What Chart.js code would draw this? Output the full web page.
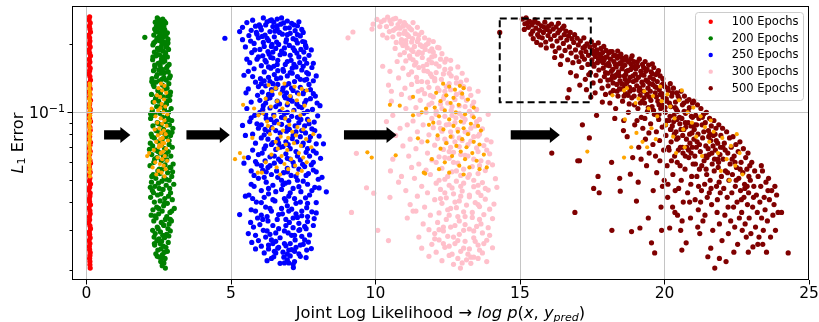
<!DOCTYPE html>
<html>
<head>
<meta charset="utf-8">
<script src="https://cdn.jsdelivr.net/npm/chart.js@4/dist/chart.umd.min.js"></script>
<style>
  html, body { margin: 0; padding: 0; background: #fff; }
  canvas { display: block; }
</style>
</head>
<body>
<canvas id="c" width="819" height="322"></canvas>
<script>
  // axis ticks
  const xTicks = [0, 5, 10, 15, 20, 25];
  const yTicks = [0.02, 0.03, 0.04, 0.05, 0.06, 0.07, 0.08, 0.09, 0.1, 0.2];

  const epochLabels = ['100 Epochs', '200 Epochs', '250 Epochs', '300 Epochs', '500 Epochs'];
  const epochColors = ['#ff0000', '#008000', '#0000ff', '#ffc0cb', '#800000'];
  const selColor = '#ffa500';

  // arrows between the clusters and the highlighted box (data units)
  const arrowFrom = [0.61, 3.46, 8.91, 14.68];
  const arrowTo = [1.52, 4.96, 10.73, 16.38];
  const arrowLevel = 0.0794;
  const boxX = [14.30, 17.45];
  const boxY = [0.1108, 0.2606];

  // [joint log likelihood, L1 error]
  const red100 = [
    [0.11,0.265],[0.09,0.257],[0.13,0.249],[0.10,0.241],[0.12,0.234],[0.14,0.227],[0.08,0.220],[0.11,0.214],[0.12,0.207],[0.10,0.201],
    [0.13,0.195],[0.09,0.189],[0.11,0.183],[0.14,0.178],[0.10,0.172],[0.12,0.167],[0.08,0.162],[0.13,0.157],[0.11,0.153],[0.09,0.148],
    [0.12,0.144],[0.14,0.139],[0.10,0.135],[0.11,0.131],[0.13,0.127],[0.08,0.123],[0.12,0.120],[0.10,0.116],[0.14,0.113],[0.11,0.109],
    [0.09,0.106],[0.13,0.103],[0.12,0.0998],[0.10,0.0968],[0.11,0.0939],[0.14,0.0911],[0.08,0.0884],[0.12,0.0857],[0.13,0.0832],[0.10,0.0807],
    [0.11,0.0782],[0.09,0.0759],[0.14,0.0736],[0.12,0.0714],[0.10,0.0693],[0.13,0.0672],[0.11,0.0652],[0.08,0.0632],[0.12,0.0613],[0.14,0.0595],
    [0.10,0.0577],[0.11,0.0560],[0.13,0.0543],[0.09,0.0527],[0.12,0.0511],[0.10,0.0496],[0.14,0.0481],[0.11,0.0466],[0.08,0.0452],[0.13,0.0439],
    [0.12,0.0426],[0.10,0.0413],[0.11,0.0401],[0.14,0.0389],[0.09,0.0377],[0.12,0.0366],[0.13,0.0355],[0.10,0.0344],[0.11,0.0334],[0.08,0.0324],
    [0.12,0.0314],[0.14,0.0305],[0.10,0.0295],[0.11,0.0287],[0.13,0.0278],[0.09,0.0270],[0.12,0.0262],[0.10,0.0254],[0.11,0.0246],[0.13,0.0239],
    [0.12,0.0232],[0.11,0.0225],[0.12,0.0218],[0.12,0.0211],[0.13,0.0204]
  ];
  const sel100 = [
    [0.11,0.134],[0.12,0.131],[0.10,0.127],[0.12,0.124],[0.11,0.121],[0.13,0.118],[0.10,0.115],[0.12,0.112],[0.11,0.109],[0.10,0.106],
    [0.12,0.103],[0.11,0.100],[0.13,0.097],[0.10,0.095],[0.12,0.092],[0.11,0.090],[0.10,0.087],[0.12,0.085],[0.11,0.082],[0.13,0.080],
    [0.10,0.078],[0.12,0.076],[0.11,0.074],[0.10,0.072],[0.12,0.070],[0.11,0.068],[0.13,0.066],[0.10,0.064],[0.12,0.062],[0.11,0.060],
    [0.10,0.058],[0.12,0.056],[0.11,0.054],[0.12,0.052]
  ];

  const green200 = [
    [2.45,0.262],[2.64,0.259],[2.55,0.255],[2.70,0.253],[2.38,0.251],[2.50,0.248],[2.62,0.246],[2.74,0.249],
    [2.42,0.241],[2.58,0.243],[2.68,0.239],[2.36,0.234],[2.53,0.236],[2.71,0.232],[2.47,0.227],[2.62,0.229],[2.80,0.225],
    [2.33,0.220],[2.56,0.222],[2.75,0.218],[2.44,0.213],[2.66,0.215],[2.82,0.211],[2.02,0.215],
    [2.38,0.206],[2.52,0.208],[2.70,0.204],[2.30,0.199],[2.61,0.201],[2.78,0.197],[2.46,0.192],[2.57,0.194],[2.84,0.190],
    [2.35,0.185],[2.66,0.187],[2.74,0.183],[2.41,0.178],[2.53,0.180],[2.80,0.176],[2.29,0.171],[2.60,0.173],[2.71,0.169],
    [2.48,0.165],[2.65,0.167],[2.86,0.163],[2.37,0.159],[2.55,0.161],[2.77,0.157],[2.32,0.153],[2.62,0.155],[2.83,0.151],
    [2.45,0.147],[2.58,0.149],[2.90,0.145],[2.27,0.141],[2.68,0.143],[2.76,0.139],[2.40,0.136],[2.52,0.138],[2.85,0.134],
    [2.34,0.130],[2.63,0.132],[2.79,0.128],[2.47,0.125],[2.71,0.127],[2.91,0.123],[2.25,0.120],[2.56,0.122],[2.82,0.118],
    [2.39,0.115],[2.66,0.117],[2.88,0.113],[2.31,0.111],[2.50,0.112],[2.77,0.109],[2.43,0.106],[2.61,0.108],[2.93,0.104],
    [2.28,0.102],[2.70,0.103],[2.84,0.100],[2.36,0.098],[2.54,0.099],[2.80,0.096],[2.22,0.094],[2.64,0.095],[2.95,0.092],
    [2.45,0.090],[2.73,0.091],[2.87,0.088],[2.30,0.087],[2.58,0.088],[2.99,0.085],[2.41,0.083],[2.67,0.084],[2.82,0.082],
    [2.24,0.080],[2.52,0.081],[2.91,0.079],[2.35,0.077],[2.75,0.078],[2.62,0.076],[2.48,0.074],[2.86,0.075],[2.21,0.073],
    [2.29,0.071],[2.60,0.072],[2.97,0.070],[2.39,0.068],[2.70,0.069],[2.83,0.067],[2.26,0.065],[2.55,0.066],[2.92,0.064],
    [2.44,0.063],[2.66,0.0635],[2.78,0.0615],[2.33,0.060],[2.59,0.061],[3.00,0.059],[2.20,0.058],[2.72,0.0585],[2.88,0.057],
    [2.47,0.055],[2.63,0.056],[2.81,0.054],[2.31,0.053],[2.54,0.0535],[2.95,0.052],[2.40,0.051],[2.69,0.0515],[2.86,0.050],
    [2.25,0.049],[2.61,0.0495],[3.02,0.048],[2.37,0.047],[2.76,0.0475],[2.52,0.046],[2.28,0.045],[2.65,0.0455],[2.91,0.044],
    [2.46,0.043],[2.58,0.0435],[2.84,0.0425],[2.22,0.042],[2.71,0.0415],[2.97,0.041],[2.35,0.040],[2.55,0.0405],[2.80,0.0395],
    [2.43,0.038],[2.67,0.0385],[3.04,0.0375],[2.30,0.037],[2.62,0.0365],[2.89,0.036],[2.24,0.035],[2.50,0.0355],[2.78,0.0345],
    [2.41,0.034],[2.73,0.0335],[2.94,0.033],[2.33,0.033],[2.59,0.0325],[2.86,0.032],[2.45,0.031],[2.68,0.0315],[2.82,0.0305],
    [2.29,0.030],[2.56,0.0295],[2.90,0.0298],[2.38,0.029],[2.64,0.0285],[2.77,0.0288],[2.34,0.028],[2.70,0.0278],[2.51,0.0275],
    [2.44,0.027],[2.60,0.0268],[2.83,0.0265],[2.36,0.0258],[2.66,0.0255],[2.75,0.0252],[2.47,0.0245],[2.58,0.0248],[2.80,0.0242],
    [2.40,0.0236],[2.63,0.0234],[2.53,0.0228],[2.72,0.0225],[2.45,0.0230],[2.57,0.0218],[2.68,0.0215],[2.62,0.0209],[2.73,0.0204],
    [2.50,0.258],[2.59,0.250],[2.47,0.243],[2.66,0.236],[2.40,0.229],[2.72,0.222],[2.52,0.217],[2.60,0.209],[2.33,0.203],[2.74,0.195],
    [2.51,0.189],[2.43,0.181],[2.69,0.177],[2.58,0.168],[2.36,0.162],[2.80,0.160],[2.50,0.154],[2.70,0.150],[2.42,0.144],[2.61,0.140],
    [2.31,0.133],[2.74,0.129],[2.55,0.124],[2.43,0.118],[2.78,0.112],[2.57,0.107],[2.34,0.097],[2.85,0.093],[2.50,0.089],[2.68,0.081],
    [2.27,0.078],[2.86,0.072],[2.48,0.067],[2.75,0.065],[2.36,0.062],[2.92,0.057],[2.52,0.056],[2.26,0.052],[2.76,0.0505],[2.49,0.0485],
    [2.88,0.046],[2.32,0.044],[2.70,0.0395],[2.50,0.0375],[2.95,0.0365],[2.37,0.0348],[2.66,0.0318],[2.48,0.0305],[2.85,0.0283],[2.55,0.0262],
    [2.70,0.0240],[2.35,0.0262],[2.62,0.0226],[2.90,0.0335],[2.21,0.0465],[2.98,0.0545],[2.18,0.0685],[2.96,0.0815],[2.22,0.0985],[2.89,0.119],
    [2.26,0.137],[2.87,0.142],[2.30,0.176],[2.82,0.203],[2.58,0.216],[2.65,0.187]
  ];
  const sel200 = [
    [2.58,0.134],[2.70,0.131],[2.49,0.128],[2.62,0.125],[2.76,0.122],[2.44,0.119],[2.55,0.117],[2.68,0.114],[2.35,0.111],[2.60,0.109],
    [2.73,0.106],[2.26,0.104],[2.48,0.102],[2.66,0.100],[2.80,0.098],[2.39,0.096],[2.57,0.094],[2.70,0.092],[2.45,0.090],[2.62,0.089],
    [2.77,0.087],[2.52,0.085],[2.36,0.084],[2.68,0.083],[2.59,0.081],[2.74,0.080],[2.47,0.079],[2.64,0.077],[2.55,0.076],[2.82,0.075],
    [2.41,0.074],[2.69,0.073],[2.60,0.071],[2.50,0.070],[2.76,0.069],[2.33,0.068],[2.65,0.067],[2.57,0.066],[2.71,0.064],[2.46,0.063],
    [2.10,0.064],[2.17,0.066],[2.62,0.062],[2.79,0.061],[2.38,0.060],[2.54,0.059],[2.67,0.058],[2.29,0.057],[2.74,0.056],[2.49,0.055],
    [2.60,0.054],[2.42,0.053],[2.70,0.052],[2.56,0.1045],[2.52,0.0715],[2.63,0.0735]
  ];

  const blue250 = [
    [6.12,0.262],[6.60,0.259],[5.75,0.256],[6.95,0.254],[6.40,0.257],[5.55,0.250],[6.25,0.252],[7.10,0.248],
    [5.98,0.244],[6.72,0.246],[7.30,0.242],[5.40,0.238],[6.45,0.240],[6.88,0.236],[6.05,0.232],[6.60,0.234],[7.22,0.230],[5.70,0.231],
    [5.88,0.226],[6.35,0.228],[7.05,0.224],[6.18,0.220],[6.78,0.222],[7.40,0.218],[5.62,0.219],[4.79,0.213],[5.95,0.214],[6.50,0.216],[7.15,0.212],
    [6.30,0.208],[6.92,0.210],[7.48,0.206],[5.80,0.202],[6.12,0.204],[6.65,0.200],[7.30,0.203],[6.40,0.196],[7.02,0.198],[7.60,0.194],[5.50,0.195],
    [6.00,0.190],[6.55,0.192],[7.20,0.188],[5.72,0.184],[6.28,0.186],[6.85,0.182],[7.52,0.185],[6.10,0.178],[6.70,0.180],[7.35,0.176],[7.70,0.179],
    [5.90,0.172],[6.45,0.174],[7.08,0.170],[6.22,0.167],[6.95,0.168],[7.62,0.165],[5.65,0.166],[6.05,0.161],[6.60,0.163],[7.25,0.159],
    [5.80,0.156],[6.38,0.157],[7.45,0.154],[7.80,0.158],[6.15,0.151],[6.82,0.152],[7.12,0.149],[5.45,0.146],[6.50,0.147],[7.30,0.144],[7.68,0.148],
    [6.02,0.141],[6.72,0.142],[7.55,0.139],[5.85,0.136],[6.35,0.137],[7.00,0.134],[7.85,0.138],[6.20,0.131],[6.90,0.132],[7.40,0.129],
    [5.60,0.127],[6.55,0.128],[7.15,0.125],[7.75,0.126],[6.08,0.123],[6.78,0.124],[7.50,0.121],[5.92,0.119],[6.42,0.120],[7.05,0.117],[7.92,0.118],
    [6.25,0.115],[6.88,0.116],[7.60,0.113],[5.70,0.111],[6.60,0.112],[7.28,0.109],[7.98,0.110],[6.12,0.107],[6.95,0.108],[7.45,0.105],
    [5.55,0.104],[6.35,0.1045],[7.18,0.102],[7.82,0.103],[6.00,0.100],[6.70,0.101],[7.52,0.099],[5.82,0.097],[6.48,0.0975],[7.10,0.096],[8.00,0.0965],
    [6.22,0.094],[6.85,0.0945],[7.65,0.093],[5.65,0.091],[6.58,0.0915],[7.35,0.090],[7.88,0.0905],[6.05,0.088],[6.75,0.0885],[7.22,0.087],
    [5.95,0.085],[6.40,0.0855],[7.02,0.084],[7.80,0.0845],[6.30,0.082],[6.92,0.0825],[7.58,0.081],[5.50,0.079],[6.15,0.0795],[7.40,0.078],[8.05,0.0785],
    [6.62,0.076],[7.12,0.0765],[7.70,0.075],[5.85,0.073],[6.45,0.0735],[6.98,0.072],[7.95,0.0725],[6.20,0.071],[6.80,0.0705],[7.48,0.0715],
    [5.75,0.068],[6.55,0.0685],[7.25,0.067],[7.85,0.0675],[6.08,0.066],[6.90,0.0655],[7.60,0.0665],[5.60,0.063],[6.35,0.0635],[7.05,0.062],[8.10,0.0625],
    [6.18,0.061],[6.72,0.0605],[7.40,0.0615],[5.90,0.059],[6.50,0.0595],[7.18,0.058],[7.78,0.0585],[6.28,0.057],[6.95,0.0565],[7.55,0.0575],
    [5.70,0.055],[6.10,0.0555],[6.82,0.054],[7.95,0.0545],[6.40,0.053],[7.08,0.0525],[7.68,0.0535],[5.95,0.051],[6.62,0.0515],[7.30,0.050],[8.02,0.0505],
    [6.22,0.049],[6.88,0.0485],[7.50,0.0495],[5.80,0.047],[6.45,0.0475],[7.15,0.046],[7.90,0.0465],[6.05,0.045],[6.75,0.0455],[7.42,0.0445],[8.30,0.0444],
    [5.62,0.043],[6.30,0.0435],[7.00,0.0425],[7.72,0.043],[6.15,0.042],[6.85,0.0415],[7.58,0.0418],[5.88,0.040],[6.52,0.0405],[7.25,0.0395],[7.95,0.0398],
    [6.20,0.038],[6.95,0.0385],[7.62,0.0378],[5.70,0.037],[6.40,0.0365],[7.10,0.0372],[7.80,0.0362],[6.05,0.035],[6.78,0.0355],[7.45,0.0348],[5.30,0.0352],
    [5.92,0.034],[6.60,0.0335],[7.30,0.0342],[7.88,0.0338],[6.28,0.033],[7.02,0.0325],[7.65,0.0328],[5.78,0.031],[6.45,0.0315],[7.15,0.0308],[7.55,0.0312],
    [6.12,0.030],[6.85,0.0298],[7.38,0.0302],[5.60,0.029],[6.35,0.0288],[6.98,0.0292],[7.72,0.0286],[6.20,0.028],[6.70,0.0278],[7.45,0.0282],
    [5.95,0.027],[6.55,0.0268],[7.22,0.0272],[7.68,0.0266],[6.30,0.0258],[6.90,0.0256],[7.50,0.026],[5.85,0.0248],[6.62,0.025],[7.10,0.0246],[7.78,0.0249],
    [6.15,0.0238],[6.80,0.024],[7.35,0.0236],[6.48,0.0229],[7.05,0.0231],[7.60,0.0227],[6.25,0.022],[6.95,0.0222],[7.20,0.0218],
    [7.15,0.0212],[6.83,0.0228],[6.70,0.0214],[7.16,0.0205],
    [6.35,0.255],[6.82,0.249],[5.85,0.241],[7.02,0.237],[6.52,0.229],[6.95,0.221],[6.08,0.217],[7.25,0.209],[6.58,0.205],[5.68,0.207],
    [6.85,0.193],[7.42,0.190],[6.32,0.181],[7.05,0.179],[5.95,0.176],[6.62,0.170],[7.38,0.166],[6.48,0.160],[7.12,0.157],[5.60,0.152],
    [6.95,0.145],[6.30,0.143],[7.40,0.140],[5.95,0.130],[6.62,0.133],[7.70,0.133],[6.40,0.126],[7.30,0.122],[6.00,0.113],[7.12,0.112],
    [7.75,0.115],[6.55,0.106],[7.65,0.101],[6.20,0.098],[7.30,0.095],[5.90,0.089],[7.00,0.092],[7.55,0.087],[6.18,0.084],[6.70,0.081],
    [7.90,0.083],[6.05,0.077],[7.28,0.074],[6.70,0.070],[7.65,0.069],[5.95,0.065],[7.30,0.064],[6.65,0.062],[7.85,0.060],[6.05,0.058],
    [7.35,0.056],[6.58,0.055],[7.25,0.052],[5.80,0.0525],[6.75,0.050],[7.65,0.048],[6.30,0.046],[7.05,0.044],[7.80,0.045],[6.45,0.041],
    [7.40,0.040],[5.75,0.0415],[6.75,0.0375],[7.45,0.0365],[6.25,0.0345],[7.15,0.034],[6.90,0.0315],[6.00,0.0318],[7.60,0.0305],[6.55,0.0292],
    [7.20,0.0285],[6.45,0.0262],[7.05,0.0262],[6.50,0.0242],[7.20,0.0242],[6.95,0.0235],[6.65,0.0252],[7.40,0.0258],[5.72,0.0265],[7.85,0.0315],
    [5.50,0.0425],[8.15,0.0515],[5.45,0.0595],[8.20,0.0725],[5.40,0.0875],[8.08,0.107],[5.52,0.122],[7.95,0.145],[5.55,0.172],[7.78,0.189],
    [5.40,0.210],[7.50,0.226],[5.30,0.228],[6.75,0.262],[7.35,0.252],[6.20,0.244],[7.55,0.205],[6.45,0.185],[6.80,0.155],[7.50,0.160],
    [6.15,0.138],[7.10,0.128],[6.85,0.118],[6.35,0.116],[6.95,0.100],[6.50,0.090],[7.15,0.079],[6.40,0.072],
    [6.48,0.251],[7.18,0.244],[6.02,0.239],[6.68,0.226],[7.30,0.221],[6.25,0.213],[6.90,0.205],[7.58,0.198],[6.15,0.196],[6.75,0.187],
    [7.28,0.183],[6.38,0.175],[7.55,0.172],[6.88,0.163],[6.30,0.159],[7.05,0.150],[7.62,0.150],[6.58,0.141],[7.20,0.137],[6.05,0.134],
    [6.80,0.128],[7.52,0.124],[6.30,0.120],[7.00,0.114],[6.68,0.109],[7.35,0.106],[6.10,0.103],[6.85,0.099],[7.42,0.093],[6.38,0.093],
    [7.70,0.089],[6.95,0.086],[6.55,0.083],[7.25,0.082],[7.75,0.078],[6.28,0.076],[6.90,0.074],[7.50,0.073],[6.15,0.069],[7.05,0.069],
    [7.72,0.064],[6.50,0.064],[7.15,0.060],[6.35,0.058],[6.95,0.0545],[7.60,0.0525],[6.15,0.0515],[6.80,0.0478],[7.35,0.0468],[6.55,0.0445],
    [7.20,0.0415],[6.05,0.0398],[6.90,0.0405],[7.65,0.0395],[6.35,0.0375],[7.25,0.0355],[6.65,0.0352],[7.65,0.0345],[6.10,0.0335],[6.90,0.0335],
    [6.65,0.0305],[7.35,0.0322],[6.25,0.0298],[7.10,0.0285],[7.55,0.0272],[6.40,0.0272],[6.85,0.0262],[7.25,0.0252],[6.05,0.0255],[6.55,0.0238],
    [7.00,0.0245],[6.85,0.0215],[7.40,0.0230],[6.40,0.0225],[6.60,0.242],[7.45,0.233],[5.90,0.222],[6.42,0.200],[7.15,0.193],[5.82,0.189],
    [6.18,0.170],[7.18,0.163],[7.85,0.165],[6.62,0.153],[5.75,0.144],[6.45,0.134],[7.62,0.140],[6.92,0.122],[7.85,0.121],[6.20,0.110],
    [7.55,0.110],[6.75,0.095],[5.70,0.0945],[7.45,0.083],[5.75,0.080],[6.65,0.073],[7.95,0.066],[5.85,0.0605],[6.95,0.0625],[7.48,0.0588],
    [6.22,0.0545],[7.85,0.0555],[5.70,0.0480],[7.00,0.0490],[8.05,0.0462],[5.85,0.0365],[7.00,0.0365],[7.95,0.0358],[5.68,0.0325],[7.35,0.0300],
    [5.85,0.0285],[7.62,0.0245],[6.30,0.0248],[7.00,0.0215]
  ];
  const sel250 = [
    [5.42,0.108],[5.14,0.062],[5.31,0.066],[5.45,0.063],[5.74,0.077],[5.93,0.054],[6.07,0.054],[5.80,0.104],[5.95,0.097],
    [6.30,0.132],[6.55,0.128],[6.85,0.134],[7.20,0.130],[7.45,0.127],[6.42,0.124],[6.70,0.121],[7.05,0.118],[7.35,0.120],[7.62,0.125],
    [6.20,0.115],[6.60,0.112],[6.95,0.110],[7.28,0.113],[6.38,0.106],[6.78,0.104],[7.15,0.101],[7.55,0.107],[6.10,0.099],
    [6.50,0.096],[6.88,0.094],[7.40,0.097],[7.70,0.092],[6.25,0.091],[6.65,0.089],[7.02,0.088],[7.30,0.086],[6.45,0.085],
    [6.80,0.083],[7.12,0.082],[7.50,0.084],[6.35,0.080],[6.72,0.078],[6.98,0.077],[7.25,0.079],[7.60,0.076],[6.55,0.074],
    [6.90,0.072],[7.18,0.073],[7.42,0.071],[6.62,0.069],[6.95,0.068],[7.35,0.066],[7.78,0.070],[6.40,0.065],[6.75,0.064],
    [7.08,0.062],[7.50,0.063],[6.20,0.060],[6.85,0.059],[7.22,0.058],[7.62,0.060],[6.58,0.057],[6.98,0.056],[7.45,0.055],
    [6.70,0.053],[7.30,0.0535],[6.28,0.087],[7.85,0.080]
  ];

  const pink300 = [
    [10.42,0.264],[10.05,0.258],[10.62,0.259],[10.30,0.256],[10.20,0.252],[10.85,0.253],[11.30,0.250],[9.92,0.246],[10.55,0.247],[11.05,0.244],
    [10.38,0.240],[10.95,0.241],[11.45,0.238],[11.15,0.239],[9.88,0.234],[10.70,0.235],[11.25,0.232],[9.22,0.227],[10.48,0.228],[11.02,0.229],[11.60,0.226],
    [10.82,0.222],[11.38,0.223],[10.25,0.220],[9.05,0.214],[10.60,0.216],[11.15,0.217],[11.70,0.214],[10.90,0.210],[11.48,0.211],[11.05,0.208],
    [10.72,0.204],[11.25,0.205],[11.82,0.202],[12.00,0.206],[10.95,0.198],[11.55,0.199],[11.35,0.196],[10.68,0.192],[11.10,0.193],[11.72,0.190],[12.15,0.194],
    [11.30,0.186],[11.88,0.187],[11.00,0.184],[10.85,0.180],[11.45,0.181],[12.05,0.178],[12.30,0.182],[11.20,0.174],[11.62,0.175],[12.45,0.172],
    [10.75,0.168],[11.05,0.169],[11.95,0.166],[12.60,0.170],[11.35,0.162],[11.78,0.163],[12.20,0.160],[10.95,0.157],[11.50,0.158],[12.40,0.155],[12.85,0.159],
    [10.50,0.152],[11.68,0.153],[12.10,0.150],[11.15,0.147],[11.90,0.148],[12.62,0.145],[13.00,0.149],[10.80,0.142],[11.42,0.143],[12.28,0.140],
    [11.60,0.137],[12.05,0.138],[12.80,0.135],[13.15,0.139],[10.45,0.132],[11.25,0.133],[12.45,0.130],[11.02,0.128],[11.85,0.129],[12.60,0.126],[13.25,0.127],
    [11.48,0.124],[12.20,0.125],[12.95,0.122],[10.90,0.120],[11.70,0.121],[12.38,0.118],[13.30,0.119],[11.20,0.116],[12.00,0.117],[12.75,0.114],
    [10.55,0.112],[11.55,0.113],[12.50,0.110],[13.40,0.111],[11.85,0.108],[12.25,0.109],[13.10,0.106],[11.05,0.104],[11.40,0.105],[12.62,0.102],[13.50,0.103],
    [11.75,0.100],[12.10,0.101],[12.90,0.099],[10.60,0.097],[11.50,0.098],[12.40,0.096],[13.35,0.0965],[11.95,0.094],[12.78,0.0945],[13.60,0.093],
    [10.38,0.091],[11.30,0.0915],[12.20,0.090],[13.05,0.0905],[11.65,0.088],[12.55,0.0885],[13.45,0.087],[10.85,0.085],[12.00,0.0855],[12.85,0.084],[13.70,0.0845],
    [11.45,0.082],[12.30,0.0825],[13.20,0.081],[10.70,0.079],[11.85,0.0795],[12.65,0.078],[13.55,0.0785],[11.20,0.076],[12.15,0.0765],[13.00,0.075],[13.85,0.0755],
    [11.60,0.074],[12.45,0.0735],[13.30,0.0745],[10.95,0.071],[12.05,0.0715],[12.90,0.0705],[13.75,0.0712],[11.40,0.069],[12.35,0.0685],[13.50,0.0695],
    [9.34,0.0658],[11.80,0.066],[12.70,0.0665],[13.95,0.0655],[11.15,0.064],[12.20,0.0635],[13.10,0.0645],[10.60,0.062],[11.95,0.0615],[12.55,0.0625],[13.65,0.061],
    [11.50,0.059],[12.85,0.0595],[14.05,0.0585],[11.25,0.057],[12.30,0.0565],[13.35,0.0575],[10.52,0.055],[11.75,0.0555],[12.65,0.0545],[13.80,0.0552],
    [11.90,0.053],[12.95,0.0525],[13.55,0.0535],[11.35,0.051],[12.40,0.0505],[13.20,0.0515],[14.15,0.0508],[10.80,0.049],[12.10,0.0485],[12.80,0.0495],[13.70,0.0488],
    [9.69,0.0463],[11.60,0.047],[12.55,0.0475],[13.40,0.0468],[11.05,0.045],[12.25,0.0455],[13.00,0.0448],[13.90,0.0452],[9.94,0.0438],[11.80,0.044],[12.70,0.0435],[13.55,0.0442],
    [10.50,0.042],[11.45,0.0425],[12.45,0.0418],[13.25,0.0422],[12.05,0.041],[12.90,0.0405],[13.80,0.0412],[11.20,0.039],[12.30,0.0395],[13.15,0.0388],[14.10,0.0392],
    [11.70,0.038],[12.60,0.0375],[13.60,0.0382],[9.17,0.036],[11.40,0.0365],[12.20,0.0358],[13.05,0.0362],[11.90,0.035],[12.85,0.0345],[13.75,0.0352],
    [11.10,0.034],[12.45,0.0335],[13.35,0.0342],[14.05,0.0338],[11.65,0.032],[12.15,0.0325],[13.10,0.0318],[12.60,0.031],[13.50,0.0312],[13.90,0.0308],
    [10.08,0.030],[11.85,0.0302],[12.35,0.0298],[13.25,0.0304],[12.05,0.029],[12.90,0.0288],[13.70,0.0292],[11.50,0.028],[12.50,0.0282],[13.40,0.0278],
    [10.45,0.027],[12.20,0.0272],[13.10,0.0268],[13.85,0.0271],[11.95,0.026],[12.75,0.0262],[13.55,0.0258],[11.60,0.025],[12.40,0.0252],[13.25,0.0248],[14.05,0.0251],
    [12.10,0.024],[12.95,0.0242],[13.70,0.0238],[11.85,0.023],[12.55,0.0232],[13.40,0.0228],[12.30,0.022],[13.15,0.0222],[13.85,0.0218],
    [12.70,0.0212],[13.30,0.0214],[12.94,0.0204],
    [10.50,0.255],[10.78,0.245],[10.15,0.240],[11.20,0.235],[10.62,0.231],[10.98,0.224],[11.50,0.220],[10.40,0.214],[11.28,0.212],[11.85,0.209],
    [11.05,0.201],[11.62,0.196],[11.95,0.191],[11.25,0.189],[12.00,0.185],[11.62,0.183],[11.18,0.178],[11.85,0.171],[12.40,0.167],[11.40,0.166],
    [12.10,0.164],[11.65,0.160],[12.60,0.156],[11.25,0.151],[12.35,0.148],[11.95,0.144],[12.80,0.142],[11.80,0.136],[12.55,0.134],[12.15,0.128],
    [13.05,0.130],[11.60,0.126],[12.80,0.120],[12.35,0.115],[13.15,0.113],[11.95,0.110],[12.90,0.107],[12.30,0.104],[13.25,0.101],[12.65,0.097],
    [13.10,0.093],[12.45,0.088],[13.30,0.085],[12.60,0.082],[13.60,0.080],[12.90,0.077],[12.40,0.076],[13.20,0.072],[12.60,0.070],[13.85,0.068],
    [12.95,0.065],[12.40,0.063],[13.40,0.062],[12.70,0.060],[13.90,0.060],[13.05,0.056],[12.50,0.052],[13.40,0.050],[12.95,0.047],[13.80,0.046],
    [12.40,0.044],[13.25,0.043],[12.75,0.040],[13.55,0.039],[12.50,0.037],[13.35,0.036],[12.90,0.033],[13.65,0.032],[12.35,0.031],[13.05,0.030],
    [13.95,0.0285],[12.70,0.028],[13.45,0.0268],[12.55,0.0255],[13.20,0.0235],[12.85,0.0225],[13.55,0.0225],[12.05,0.0275],[11.30,0.0365],[10.90,0.052],
    [11.10,0.088],[10.55,0.124],[10.25,0.160],[12.20,0.193],[11.00,0.250],[10.70,0.261],[14.20,0.0465],[14.00,0.074],[13.90,0.098],[13.55,0.124],
    [10.85,0.236],[11.10,0.221],[11.45,0.206],[10.90,0.203],[11.75,0.199],[11.50,0.185],[11.95,0.176],[11.30,0.171],[12.25,0.172],[11.80,0.152],
    [12.55,0.149],[12.05,0.141],[12.95,0.136],[11.45,0.137],[12.40,0.124],[13.00,0.117],[11.90,0.119],[12.65,0.106],[13.35,0.107],[12.10,0.098],
    [13.00,0.096],[12.75,0.090],[13.50,0.091],[12.25,0.085],[13.10,0.082],[13.40,0.078],[12.75,0.074],[13.55,0.067],[12.55,0.067],[13.20,0.064],
    [12.10,0.060],[13.60,0.058],[12.80,0.055],[13.25,0.053],[12.20,0.050],[13.05,0.0485],[13.55,0.0475],[12.65,0.0462],[12.95,0.0425],[13.65,0.0428],
    [12.25,0.0415],[13.45,0.0398],[12.80,0.0378],[13.95,0.0372],[12.55,0.0350],[13.10,0.0345],[13.60,0.0335],[12.75,0.0315],[13.40,0.0298],[12.20,0.0302],
    [12.85,0.0270],[13.75,0.0262],[12.35,0.0262],[13.05,0.0250],[13.60,0.0245],[12.65,0.0235],[13.30,0.0228],[13.00,0.0215]
  ];
  const sel300 = [
    [12.34,0.134],[12.55,0.130],[12.92,0.131],[13.05,0.128],[12.75,0.126],[10.50,0.108],[10.84,0.107],[11.30,0.117],[9.72,0.0665],[9.87,0.063],
    [10.70,0.0645],[11.47,0.0767],[11.80,0.0743],[11.67,0.054],[11.72,0.0535],[11.30,0.097],[11.75,0.104],[11.60,0.100],
    [12.10,0.122],[12.45,0.119],[12.70,0.116],[13.00,0.121],[12.25,0.112],[12.60,0.110],[12.88,0.108],[13.20,0.114],[12.05,0.105],
    [12.40,0.102],[12.78,0.100],[13.10,0.098],[13.40,0.095],[12.20,0.096],[12.55,0.093],[12.95,0.091],[13.30,0.089],[12.00,0.090],
    [12.70,0.087],[13.05,0.085],[13.55,0.087],[12.35,0.084],[12.85,0.082],[13.20,0.080],[13.65,0.083],[12.15,0.079],[12.60,0.078],
    [13.00,0.076],[13.40,0.074],[12.45,0.073],[12.80,0.071],[13.15,0.070],[13.60,0.072],[12.25,0.069],[12.95,0.067],[13.35,0.066],
    [12.65,0.064],[13.10,0.062],[13.50,0.061],[13.75,0.065],[12.40,0.060],[12.90,0.058],[13.25,0.057],[13.60,0.056],[12.55,0.054],
    [13.05,0.053],[13.85,0.057],[12.20,0.056],[11.95,0.062],[11.85,0.088],[13.40,0.105]
  ];

  const maroon500 = [
    [14.30,0.226],
    [15.08,0.259],[15.17,0.247],[15.21,0.262],[15.29,0.238],[15.33,0.253],[15.41,0.244],[15.44,0.229],[15.52,0.257],[15.55,0.236],[15.61,0.221],
    [15.63,0.248],[15.68,0.231],[15.74,0.242],[15.77,0.214],[15.81,0.226],[15.86,0.251],[15.89,0.205],[15.93,0.233],[15.97,0.219],[15.99,0.241],
    [15.46,0.212],[15.72,0.199],[15.38,0.222],[15.15,0.233],[15.58,0.204],[15.91,0.193],[15.26,0.249],[15.84,0.238],[15.66,0.216],[15.49,0.251],
    [16.03,0.228],[16.06,0.211],[16.09,0.246],[16.12,0.197],[16.15,0.234],[16.19,0.219],[16.22,0.186],[16.25,0.239],[16.28,0.207],[16.31,0.225],
    [16.35,0.193],[16.37,0.231],[16.41,0.214],[16.44,0.178],[16.47,0.236],[16.50,0.202],[16.53,0.221],[16.56,0.188],[16.59,0.229],[16.62,0.209],
    [16.65,0.171],[16.68,0.218],[16.71,0.195],[16.74,0.226],[16.77,0.183],[16.80,0.212],[16.83,0.166],[16.86,0.204],[16.89,0.221],[16.92,0.189],
    [16.95,0.176],[16.98,0.213],[16.40,0.163],[16.65,0.116],[16.70,0.126],[16.75,0.150],[16.20,0.175],[16.95,0.145],[16.10,0.066],[16.90,0.036],
    [16.52,0.241],[16.33,0.248],
    [17.02,0.199],[17.04,0.168],[17.07,0.132],[17.09,0.207],[17.11,0.184],[17.14,0.158],[17.16,0.088],[17.18,0.193],[17.21,0.214],[17.23,0.172],
    [17.26,0.140],[17.28,0.186],[17.30,0.126],[17.32,0.201],[17.35,0.163],[17.37,0.179],[17.40,0.077],[17.42,0.195],[17.44,0.150],[17.47,0.206],
    [17.49,0.171],[17.51,0.188],[17.53,0.135],[17.55,0.046],[17.56,0.160],[17.58,0.198],[17.61,0.177],[17.63,0.146],[17.65,0.097],[17.66,0.189],
    [17.68,0.166],[17.70,0.052],[17.71,0.203],[17.73,0.154],[17.74,0.044],[17.76,0.181],[17.78,0.138],[17.80,0.192],[17.82,0.169],[17.84,0.128],
    [17.86,0.184],[17.88,0.157],[17.90,0.196],[17.92,0.144],[17.94,0.175],[17.96,0.120],[17.98,0.188],[17.99,0.162],[17.06,0.061],[17.00,0.061],
    [17.45,0.117],[17.25,0.196],[17.60,0.122],[17.85,0.111],[17.15,0.177],[17.67,0.183],[17.38,0.147],[17.91,0.171],[17.52,0.164],[17.79,0.177],
    [18.01,0.176],[18.03,0.149],[18.05,0.131],[18.07,0.183],[18.09,0.161],[18.11,0.110],[18.13,0.172],[18.15,0.140],[18.17,0.060],[18.18,0.030],
    [18.19,0.186],[18.21,0.155],[18.23,0.125],[18.25,0.168],[18.27,0.143],[18.29,0.179],[18.31,0.104],[18.33,0.159],[18.35,0.133],[18.37,0.174],
    [18.39,0.118],[18.41,0.151],[18.43,0.164],[18.45,0.051],[18.46,0.138],[18.47,0.0447],[18.49,0.181],[18.51,0.127],[18.53,0.156],[18.55,0.112],
    [18.57,0.170],[18.59,0.092],[18.61,0.145],[18.63,0.162],[18.65,0.121],[18.67,0.176],[18.69,0.135],[18.71,0.078],[18.73,0.153],[18.75,0.100],
    [18.77,0.167],[18.79,0.129],[18.81,0.143],[18.82,0.0532],[18.84,0.173],[18.86,0.0296],[18.87,0.116],[18.89,0.158],[18.90,0.063],[18.92,0.137],
    [18.94,0.168],[18.96,0.108],[18.97,0.088],[18.99,0.148],[18.06,0.165],[18.14,0.122],[18.24,0.178],[18.34,0.147],[18.44,0.127],[18.54,0.174],
    [18.64,0.140],[18.74,0.119],[18.83,0.155],[18.93,0.126],[18.28,0.094],[18.58,0.083],[18.38,0.187],[18.68,0.152],[18.88,0.178],[18.48,0.166],
    [18.78,0.109],[18.20,0.145],[18.62,0.131],[18.98,0.160],
    [19.01,0.156],[19.03,0.0404],[19.04,0.131],[19.06,0.167],[19.08,0.104],[19.10,0.143],[19.11,0.070],[19.13,0.172],[19.15,0.0307],[19.16,0.119],
    [19.18,0.152],[19.20,0.095],[19.22,0.136],[19.24,0.163],[19.25,0.085],[19.27,0.124],[19.29,0.146],[19.31,0.110],[19.33,0.168],[19.34,0.076],
    [19.36,0.139],[19.38,0.058],[19.40,0.155],[19.41,0.101],[19.43,0.128],[19.45,0.162],[19.47,0.066],[19.48,0.117],[19.50,0.143],[19.52,0.089],
    [19.54,0.151],[19.55,0.0264],[19.57,0.106],[19.59,0.133],[19.60,0.072],[19.61,0.045],[19.63,0.158],[19.65,0.098],[19.66,0.0238],[19.68,0.122],
    [19.70,0.147],[19.72,0.082],[19.73,0.054],[19.75,0.137],[19.77,0.112],[19.79,0.153],[19.80,0.093],[19.82,0.126],[19.84,0.061],[19.85,0.145],
    [19.87,0.104],[19.88,0.038],[19.90,0.132],[19.92,0.086],[19.94,0.141],[19.95,0.116],[19.97,0.068],[19.99,0.050],[19.05,0.092],[19.14,0.128],
    [19.23,0.112],[19.32,0.094],[19.42,0.137],[19.51,0.124],[19.62,0.140],[19.71,0.129],[19.81,0.108],[19.91,0.121],[19.19,0.062],[19.46,0.081],
    [19.69,0.064],[19.93,0.047],[19.28,0.158],[19.58,0.164],[19.76,0.097],[19.44,0.034],[19.83,0.075],[19.09,0.049],
    [20.01,0.130],[20.03,0.100],[20.05,0.079],[20.07,0.112],[20.09,0.058],[20.11,0.042],[20.13,0.125],[20.15,0.092],[20.16,0.068],[20.18,0.0307],
    [20.20,0.134],[20.22,0.106],[20.23,0.074],[20.25,0.118],[20.27,0.087],[20.29,0.053],[20.31,0.128],[20.33,0.097],[20.35,0.064],[20.36,0.036],
    [20.38,0.111],[20.40,0.082],[20.42,0.122],[20.44,0.060],[20.45,0.101],[20.47,0.077],[20.49,0.046],[20.51,0.115],[20.53,0.089],[20.55,0.070],
    [20.57,0.124],[20.58,0.050],[20.60,0.094],[20.62,0.108],[20.64,0.066],[20.65,0.040],[20.67,0.084],[20.69,0.118],[20.71,0.056],[20.73,0.099],
    [20.75,0.0264],[20.76,0.076],[20.78,0.112],[20.80,0.044],[20.82,0.090],[20.84,0.063],[20.86,0.105],[20.88,0.073],[20.90,0.034],[20.91,0.048],
    [20.93,0.096],[20.95,0.081],[20.97,0.110],[20.99,0.059],[20.04,0.088],[20.14,0.070],[20.24,0.061],[20.34,0.080],[20.43,0.093],[20.54,0.058],
    [20.63,0.079],[20.74,0.086],[20.83,0.068],[20.94,0.052],[20.12,0.048],[20.37,0.045],[20.61,0.033],[20.87,0.040],[20.21,0.084],[20.48,0.068],
    [20.72,0.064],[20.96,0.070],[20.28,0.038],[20.56,0.030],[20.06,0.115],[20.41,0.103],[20.68,0.101],[20.92,0.087],[20.19,0.096],[20.85,0.114],
    [21.01,0.112],[21.03,0.084],[21.05,0.064],[21.06,0.041],[21.08,0.097],[21.10,0.070],[21.12,0.052],[21.14,0.108],[21.16,0.080],[21.17,0.037],
    [21.19,0.094],[21.21,0.056],[21.22,0.029],[21.24,0.067],[21.26,0.104],[21.28,0.045],[21.30,0.088],[21.32,0.077],[21.33,0.033],[21.35,0.098],
    [21.37,0.061],[21.39,0.048],[21.41,0.090],[21.43,0.071],[21.45,0.100],[21.46,0.053],[21.48,0.042],[21.50,0.0229],[21.52,0.083],[21.54,0.065],
    [21.56,0.094],[21.58,0.050],[21.60,0.075],[21.62,0.087],[21.63,0.039],[21.65,0.059],[21.67,0.030],[21.69,0.079],[21.71,0.092],[21.72,0.055],
    [21.74,0.0204],[21.76,0.068],[21.78,0.085],[21.80,0.047],[21.82,0.036],[21.84,0.073],[21.86,0.057],[21.88,0.088],[21.90,0.032],[21.92,0.065],
    [21.93,0.044],[21.95,0.079],[21.97,0.052],[21.99,0.027],[21.07,0.059],[21.18,0.047],[21.29,0.058],[21.40,0.035],[21.51,0.069],[21.61,0.046],
    [21.73,0.062],[21.83,0.041],[21.94,0.070],[21.13,0.074],[21.36,0.082],[21.57,0.080],[21.79,0.075],[21.25,0.040],[21.47,0.063],[21.68,0.071],
    [21.89,0.049],[21.04,0.088],[21.44,0.056],[21.85,0.062],[21.55,0.044],
    [22.01,0.085],[22.03,0.062],[22.05,0.046],[22.07,0.073],[22.09,0.035],[22.11,0.055],[22.13,0.0218],[22.15,0.082],[22.17,0.042],[22.19,0.066],
    [22.21,0.029],[22.23,0.050],[22.25,0.077],[22.27,0.059],[22.29,0.033],[22.31,0.070],[22.33,0.044],[22.35,0.053],[22.37,0.078],[22.39,0.038],
    [22.41,0.064],[22.43,0.031],[22.45,0.047],[22.47,0.072],[22.49,0.057],[22.51,0.040],[22.53,0.026],[22.55,0.067],[22.57,0.051],[22.59,0.034],
    [22.61,0.074],[22.63,0.045],[22.65,0.060],[22.67,0.036],[22.69,0.030],[22.71,0.054],[22.73,0.069],[22.75,0.042],[22.77,0.048],[22.79,0.032],
    [22.81,0.063],[22.83,0.028],[22.85,0.056],[22.87,0.039],[22.89,0.066],[22.91,0.044],[22.93,0.034],[22.95,0.058],[22.97,0.050],[22.99,0.029],
    [22.20,0.038],[22.44,0.060],[22.66,0.041],[22.86,0.047],[22.10,0.068],
    [23.02,0.060],[23.05,0.038],[23.06,0.0253],[23.09,0.047],[23.12,0.055],[23.15,0.031],[23.18,0.043],[23.21,0.036],[23.24,0.052],[23.27,0.028],
    [23.30,0.040],[23.33,0.047],[23.36,0.034],[23.39,0.055],[23.42,0.030],[23.45,0.042],[23.48,0.037],[23.51,0.049],[23.53,0.024],[23.56,0.033],
    [23.60,0.051],[23.63,0.041],[23.67,0.028],[23.71,0.045],[23.75,0.035],[23.79,0.039],[23.84,0.030],[23.88,0.043],[23.93,0.036],[24.05,0.036],
    [24.28,0.0238],[23.23,0.026],[23.58,0.045],[23.35,0.058],[23.82,0.047],
    [17.55,0.182],[17.72,0.172],[17.88,0.166],[17.96,0.150],[18.04,0.139],[18.12,0.186],[18.16,0.152],[18.22,0.135],[18.30,0.163],[18.36,0.124],
    [18.40,0.177],[18.44,0.145],[18.52,0.134],[18.56,0.160],[18.60,0.118],[18.66,0.147],[18.70,0.170],[18.76,0.138],[18.80,0.124],[18.85,0.163],
    [18.91,0.145],[18.95,0.118],[19.02,0.139],[19.07,0.160],[19.12,0.125],[19.17,0.110],[19.21,0.147],[19.26,0.132],[19.30,0.116],[19.35,0.152],
    [19.39,0.120],[19.44,0.105],[19.49,0.134],[19.53,0.113],[19.58,0.148],[19.62,0.102],[19.67,0.130],[19.72,0.117],[19.76,0.150],[19.81,0.098],
    [19.86,0.120],[19.91,0.108],[19.96,0.134],[20.02,0.105],[20.07,0.092],[20.12,0.128],[20.17,0.110],[20.22,0.084],[20.27,0.122],[20.32,0.091],
    [20.37,0.105],[20.42,0.076],[20.47,0.118],[20.52,0.095],[20.57,0.084],[20.62,0.070],[20.67,0.110],[20.72,0.090],[20.77,0.070],[20.82,0.101],
    [20.87,0.080],[20.92,0.066],[20.97,0.095],[21.02,0.076],[21.11,0.088],[21.21,0.072],[21.31,0.095],[21.42,0.064],[21.53,0.078],[21.64,0.066],
    [21.75,0.080],[21.87,0.060],[22.02,0.070],[22.18,0.054],[22.34,0.062],[22.48,0.050],[22.62,0.056],[22.78,0.046],[22.92,0.052],[23.08,0.042],
    [21.15,0.031],[21.60,0.025],[22.40,0.024],[23.40,0.026],[22.90,0.024],[20.45,0.035],[19.90,0.030],[20.60,0.0245],[21.90,0.0225]
  ];
  const sel500 = [
    [17.33,0.067],[18.60,0.063],[18.60,0.125],[18.20,0.119],[19.10,0.115],[18.63,0.093],[19.03,0.081],[19.24,0.074],
    [18.70,0.128],[19.00,0.110],[19.30,0.124],[19.45,0.104],[19.60,0.118],[19.75,0.096],[19.90,0.112],[20.05,0.088],[19.85,0.130],
    [20.20,0.106],[20.35,0.094],[20.50,0.113],[20.65,0.084],[20.80,0.100],[20.95,0.090],[21.10,0.078],[21.25,0.096],[20.30,0.078],
    [19.55,0.085],[20.10,0.120],[20.70,0.070],[21.40,0.086],[21.55,0.074],[21.70,0.082],[21.85,0.066],[22.00,0.077],[22.15,0.062],
    [22.30,0.071],[22.45,0.058],[22.60,0.066],[22.70,0.053],[21.30,0.064],[21.95,0.055],[22.25,0.050],[21.00,0.105],[20.60,0.125],
    [19.40,0.070],[18.85,0.070],[21.60,0.092],[22.50,0.080],[20.40,0.066],[19.70,0.076]
  ];

  const groups = [red100, green200, blue250, pink300, maroon500];
  const picks = [sel100, sel200, sel250, sel300, sel500];

  const FONT = "'DejaVu Sans'";
  Chart.defaults.font.family = FONT;

  function toPoints(arr) {
    return arr.map(p => ({ x: p[0], y: p[1] }));
  }

  function dots(label, arr, color, r, order) {
    return {
      label: label,
      data: toPoints(arr),
      backgroundColor: color,
      borderColor: color,
      pointBackgroundColor: color,
      pointBorderColor: color,
      pointBorderWidth: 0,
      pointRadius: r,
      pointHoverRadius: r,
      order: order
    };
  }

  const datasets = [];
  groups.forEach((g, i) => {
    datasets.push(dots(epochLabels[i], g, epochColors[i], 2.6, 2));
    datasets.push(dots('', picks[i], selColor, 2.1, 1));
  });

  // draws mixed regular / italic / sub-scripted pieces on one baseline
  function drawPieces(ctx, pieces, x, y) {
    let cx = x;
    pieces.forEach(p => {
      ctx.font = (p.it ? 'italic ' : '') + p.size + 'px ' + FONT;
      ctx.fillText(p.t, cx, y + (p.dy || 0));
      cx += ctx.measureText(p.t).width;
    });
  }
  function piecesWidth(ctx, pieces) {
    let w = 0;
    pieces.forEach(p => {
      ctx.font = (p.it ? 'italic ' : '') + p.size + 'px ' + FONT;
      w += ctx.measureText(p.t).width;
    });
    return w;
  }

  const xTitle = [
    { t: 'Joint Log Likelihood', size: 16.3 },
    { t: ' \u2192 ', size: 16.3 },
    { t: 'log p', size: 16.3, it: true },
    { t: '(', size: 16.3 },
    { t: 'x', size: 16.3, it: true },
    { t: ', ', size: 16.3 },
    { t: 'y', size: 16.3, it: true },
    { t: 'pred', size: 11, it: true, dy: 3 },
    { t: ')', size: 16.3 }
  ];
  const yTitle = [
    { t: 'L', size: 16.3, it: true },
    { t: '1', size: 11, dy: 2.5 },
    { t: ' Error', size: 16.3 }
  ];

  const decor = {
    id: 'decor',
    afterDraw(chart) {
      const { ctx, chartArea: a } = chart;
      const xs = chart.scales.x, ys = chart.scales.y;
      ctx.save();

      // grid (matplotlib draws it above the scatter)
      ctx.strokeStyle = '#c4c4c4';
      ctx.lineWidth = 1;
      ctx.beginPath();
      xTicks.forEach(v => {
        if (v >= 25) return;
        const px = Math.round(xs.getPixelForValue(v)) + 0.5;
        ctx.moveTo(px, a.top); ctx.lineTo(px, a.bottom);
      });
      const gy = Math.round(ys.getPixelForValue(0.1)) + 0.5;
      ctx.moveTo(a.left, gy); ctx.lineTo(a.right, gy);
      ctx.stroke();

      // arrows
      ctx.fillStyle = '#000';
      const ay = ys.getPixelForValue(arrowLevel);
      arrowFrom.forEach((f, i) => {
        const x0 = xs.getPixelForValue(f), x1 = xs.getPixelForValue(arrowTo[i]);
        const hx = x1 - 10;
        ctx.beginPath();
        ctx.moveTo(x0, ay - 4.6); ctx.lineTo(hx, ay - 4.6); ctx.lineTo(hx, ay - 8);
        ctx.lineTo(x1, ay); ctx.lineTo(hx, ay + 8); ctx.lineTo(hx, ay + 4.6);
        ctx.lineTo(x0, ay + 4.6); ctx.closePath();
        ctx.fill();
      });

      // dashed box
      ctx.strokeStyle = '#000';
      ctx.lineWidth = 2;
      ctx.setLineDash([7, 4]);
      const bx0 = xs.getPixelForValue(boxX[0]), bx1 = xs.getPixelForValue(boxX[1]);
      const by0 = ys.getPixelForValue(boxY[1]), by1 = ys.getPixelForValue(boxY[0]);
      ctx.strokeRect(bx0, by0, bx1 - bx0, by1 - by0);
      ctx.setLineDash([]);

      // frame and tick marks
      ctx.lineWidth = 1;
      ctx.strokeStyle = '#000';
      ctx.strokeRect(a.left + 0.5, a.top + 0.5, a.right - a.left - 1, a.bottom - a.top - 1);
      ctx.beginPath();
      xTicks.forEach(v => {
        const px = Math.round(xs.getPixelForValue(v)) + 0.5;
        ctx.moveTo(px, a.bottom); ctx.lineTo(px, a.bottom + 4.5);
      });
      yTicks.forEach(v => {
        const py = Math.round(ys.getPixelForValue(v)) + 0.5;
        ctx.moveTo(a.left, py); ctx.lineTo(a.left - (v === 0.1 ? 4.5 : 2.5), py);
      });
      ctx.stroke();

      // y tick label 10^-1
      ctx.fillStyle = '#000';
      ctx.textBaseline = 'alphabetic';
      ctx.textAlign = 'left';
      const lab = [{ t: '10', size: 15.5 }, { t: '\u22121', size: 11, dy: -6.5 }];
      const lw = piecesWidth(ctx, lab);
      drawPieces(ctx, lab, a.left - 7 - lw, gy + 5.8);

      // axis titles
      const xw = piecesWidth(ctx, xTitle);
      drawPieces(ctx, xTitle, (a.left + a.right) / 2 - xw / 2, 318.3);
      ctx.save();
      ctx.translate(22.5, (a.top + a.bottom) / 2);
      ctx.rotate(-Math.PI / 2);
      const yw = piecesWidth(ctx, yTitle);
      drawPieces(ctx, yTitle, -yw / 2, 0);
      ctx.restore();

      // legend
      const lx = a.right - 114, ly = a.top + 6;
      ctx.fillStyle = 'rgba(255,255,255,0.8)';
      ctx.strokeStyle = '#cccccc';
      ctx.beginPath();
      ctx.roundRect(lx + 0.5, ly + 0.5, 108, 88, 3);
      ctx.fill();
      ctx.stroke();
      ctx.font = '11.5px ' + FONT;
      ctx.textBaseline = 'middle';
      epochLabels.forEach((t, i) => {
        const cy = ly + 9.7 + i * 16.65;
        ctx.fillStyle = epochColors[i];
        ctx.beginPath();
        ctx.arc(lx + 15.7, cy, 2.2, 0, Math.PI * 2);
        ctx.fill();
        ctx.fillStyle = '#000';
        ctx.fillText(t, lx + 36.7, cy + 0.5);
      });

      ctx.restore();
    }
  };

  new Chart(document.getElementById('c'), {
    type: 'scatter',
    data: { datasets: datasets },
    options: {
      responsive: false,
      animation: false,
      devicePixelRatio: 1,
      events: [],
      layout: { padding: { top: 6, right: 10, left: 0, bottom: 0 } },
      plugins: { legend: { display: false }, tooltip: { enabled: false } },
      scales: {
        x: {
          type: 'linear',
          min: -0.5,
          max: 25,
          afterBuildTicks: s => { s.ticks = xTicks.map(v => ({ value: v })); },
          afterFit: s => { s.height = 42; s.paddingLeft = 0; s.paddingRight = 0; },
          grid: { display: false, drawTicks: false },
          border: { display: false },
          ticks: { color: '#000', font: { size: 15.5 }, padding: 5, maxRotation: 0, autoSkip: false }
        },
        y: {
          type: 'logarithmic',
          min: 0.01806,
          max: 0.296,
          afterBuildTicks: s => { s.ticks = yTicks.map(v => ({ value: v })); },
          afterFit: s => { s.width = 72; s.paddingTop = 0; s.paddingBottom = 0; },
          grid: { display: false, drawTicks: false },
          border: { display: false },
          ticks: { display: false }
        }
      }
    },
    plugins: [decor]
  });
</script>
</body>
</html>
